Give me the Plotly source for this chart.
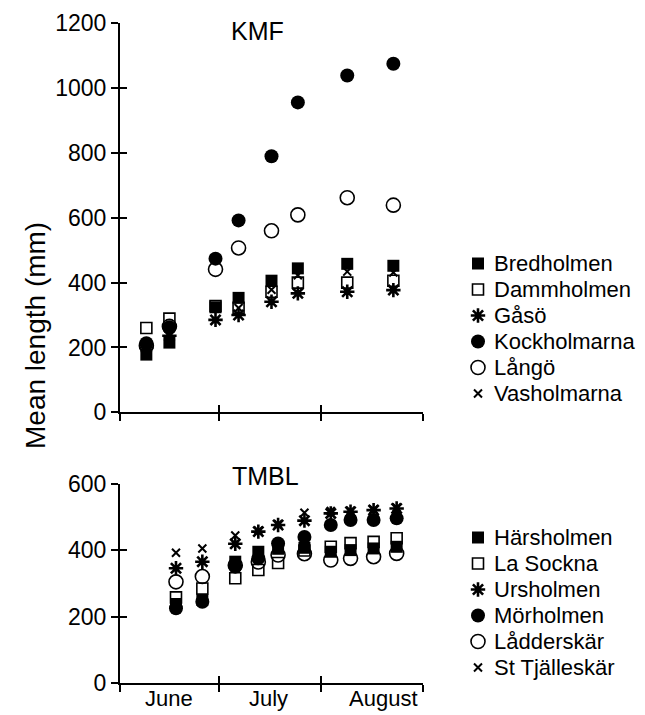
import plotly.graph_objects as go

# ---- data -------------------------------------------------------------
kmf_dates = ["2001-06-09", "2001-06-16", "2001-06-30", "2001-07-07",
             "2001-07-17", "2001-07-25", "2001-08-09", "2001-08-23"]
kmf_sites = ["Bredholmen", "Dammholmen", "Gåsö", "Kockholmarna", "Långö", "Vasholmarna"]
bredholmen = [178, 215, 324, 353, 406, 444, 458, 452]
dammholmen = [260, 289, 328, 322, 372, 400, 400, 406]
gaso = [200, 236, 285, 300, 341, 367, 372, 377]
kockholmarna = [213, 262, 474, 592, 790, 956, 1039, 1075]
lango = [205, 265, 441, 507, 560, 609, 662, 639]
vasholmarna = [205, 240, 325, 322, 378, 423, 434, 431]
kmf_values = [bredholmen, dammholmen, gaso, kockholmarna, lango, vasholmarna]

tmbl_dates = ["2001-06-18", "2001-06-26", "2001-07-06", "2001-07-13", "2001-07-19",
              "2001-07-27", "2001-08-04", "2001-08-10", "2001-08-17", "2001-08-24"]
tmbl_sites = ["Härsholmen", "La Sockna", "Ursholmen", "Mörholmen", "Lådderskär", "St Tjälleskär"]
harsholmen = [238, 250, 366, 396, 405, 408, 396, 401, 406, 411]
la_sockna = [258, 285, 316, 341, 362, 400, 411, 422, 426, 437]
ursholmen = [346, 366, 420, 457, 477, 490, 512, 517, 522, 527]
morholmen = [225, 245, 351, 376, 421, 441, 477, 492, 492, 497]
ladderskar = [305, 321, 355, 365, 386, 390, 371, 376, 381, 391]
st_tjalleskar = [393, 406, 445, 460, 480, 514, 519, 520, 524, 530]
tmbl_values = [harsholmen, la_sockna, ursholmen, morholmen, ladderskar, st_tjalleskar]

kmf_yticks = [0, 200, 400, 600, 800, 1000, 1200]
tmbl_yticks = [0, 200, 400, 600]
season = ["2001-06-01", "2001-09-01"]
month_labels = ["June", "July", "August"]
month_label_dates = ["2001-06-16", "2001-07-16", "2001-08-20"]

# ---- styling ----------------------------------------------------------
W, H = 645, 715
FONT = "Liberation Sans, Arial, Helvetica, sans-serif"
INK = "black"

# one marker style per site position (same sequence in both panels)
marker_styles = [
    dict(symbol="square", size=12, color=INK),
    dict(symbol="square-open", size=11, color=INK, line=dict(width=1.6, color=INK)),
    dict(symbol="asterisk-open", size=12, color=INK, line=dict(width=2.6, color=INK)),
    dict(symbol="circle", size=14, color=INK),
    dict(symbol="circle-open", size=14, color=INK, line=dict(width=1.6, color=INK)),
    dict(symbol="x-thin-open", size=8, color=INK, line=dict(width=2, color=INK)),
]


def px_x(p):
    return p / W


def px_y(p):
    return 1 - p / H


fig = go.Figure()

# data: drawn last-listed first so the first site sits on top
for names, values, dates, xa, ya in [
    (kmf_sites, kmf_values, kmf_dates, "x", "y"),
    (tmbl_sites, tmbl_values, tmbl_dates, "x2", "y2"),
]:
    for i in reversed(range(len(names))):
        fig.add_trace(go.Scatter(
            x=dates, y=values[i], name=names[i], mode="markers",
            marker=marker_styles[i], xaxis=xa, yaxis=ya,
            showlegend=False, cliponaxis=False,
        ))

# empty traces so that the inside-tick overlay axes get drawn
for xa, ya in [("x3", "y"), ("x", "y3"), ("x4", "y2"), ("x2", "y4")]:
    fig.add_trace(go.Scatter(x=[], y=[], xaxis=xa, yaxis=ya, showlegend=False,
                             hoverinfo="skip"))

# legend blocks: marker + site name
LEG_MARK_X, LEG_TEXT_X, LEG_GAP = 478, 492, 26.0
annotations = []
for names, first_row in [(kmf_sites, 263.5), (tmbl_sites, 537.5)]:
    rows = [first_row + i * LEG_GAP for i in range(len(names))]
    for i, name in enumerate(names):
        fig.add_trace(go.Scatter(
            x=[LEG_MARK_X], y=[rows[i]], mode="markers", marker=marker_styles[i],
            xaxis="x9", yaxis="y9", showlegend=False, hoverinfo="skip",
        ))
        annotations.append(dict(
            text=name, x=LEG_TEXT_X, y=rows[i], xref="x9", yref="y9",
            xanchor="left", yanchor="middle", showarrow=False,
            font=dict(size=22, color=INK, family=FONT),
        ))

# month names centred under each month of the bottom axis
for label, d in zip(month_labels, month_label_dates):
    annotations.append(dict(
        text=label, x=d, y=px_y(698), xref="x2", yref="paper",
        xanchor="center", yanchor="middle", showarrow=False,
        font=dict(size=22, color=INK, family=FONT),
    ))

# panel titles and shared y title
annotations += [
    dict(text="KMF", x=px_x(257), y=px_y(31), xref="paper", yref="paper",
         xanchor="center", yanchor="middle", showarrow=False,
         font=dict(size=25, color=INK, family=FONT)),
    dict(text="TMBL", x=px_x(265), y=px_y(476), xref="paper", yref="paper",
         xanchor="center", yanchor="middle", showarrow=False,
         font=dict(size=25, color=INK, family=FONT)),
    dict(text="Mean length (mm)", x=px_x(35), y=px_y(336), xref="paper", yref="paper",
         xanchor="center", yanchor="middle", textangle=-90, showarrow=False,
         font=dict(size=28, color=INK, family=FONT)),
]

x_dom = [px_x(120), px_x(423)]
top_dom = [px_y(412.3), px_y(23.3)]
bot_dom = [px_y(682.7), px_y(484.3)]

common_x = dict(type="date", range=season, tick0=season[0], dtick="M1", automargin=False,
                ticklen=7, tickwidth=2, tickcolor=INK, showgrid=False, zeroline=False)
common_y = dict(ticklen=7, tickwidth=2, tickcolor=INK, showgrid=False, zeroline=False,
                automargin=False)

fig.update_layout(
    width=W, height=H,
    margin=dict(l=0, r=0, t=0, b=0),
    paper_bgcolor="white", plot_bgcolor="rgba(0,0,0,0)",
    font=dict(family=FONT, size=22, color=INK),
    showlegend=False,
    annotations=annotations,
    xaxis=dict(domain=x_dom, anchor="y", ticks="outside", showticklabels=False,
               showline=True, linewidth=2, linecolor=INK, **common_x),
    yaxis=dict(domain=top_dom, anchor="x", range=[0, 1200], tickvals=kmf_yticks,
               ticks="outside", showline=True, linewidth=2, linecolor=INK,
               tickfont=dict(size=23), **common_y),
    xaxis2=dict(domain=x_dom, anchor="y2", ticks="outside", showticklabels=False,
                showline=True, linewidth=2, linecolor=INK, **common_x),
    yaxis2=dict(domain=bot_dom, anchor="x2", range=[0, 600], tickvals=tmbl_yticks,
                ticks="outside", showline=True, linewidth=2, linecolor=INK,
                tickfont=dict(size=23), **common_y),
    # inside halves of the crossing tick marks
    xaxis3=dict(overlaying="x", anchor="y", ticks="inside", showticklabels=False,
                showline=False, **common_x),
    yaxis3=dict(overlaying="y", anchor="x", range=[0, 1200], tickvals=kmf_yticks,
                ticks="inside", showticklabels=False, showline=False, **common_y),
    xaxis4=dict(overlaying="x2", anchor="y2", ticks="inside", showticklabels=False,
                showline=False, **common_x),
    yaxis4=dict(overlaying="y2", anchor="x2", range=[0, 600], tickvals=tmbl_yticks,
                ticks="inside", showticklabels=False, showline=False, **common_y),
    # pixel-space axes for the legend blocks
    xaxis9=dict(domain=[0, 1], anchor="y9", range=[0, W], visible=False),
    yaxis9=dict(domain=[0, 1], anchor="x9", range=[H, 0], visible=False),
)

fig.write_html("out.html")
